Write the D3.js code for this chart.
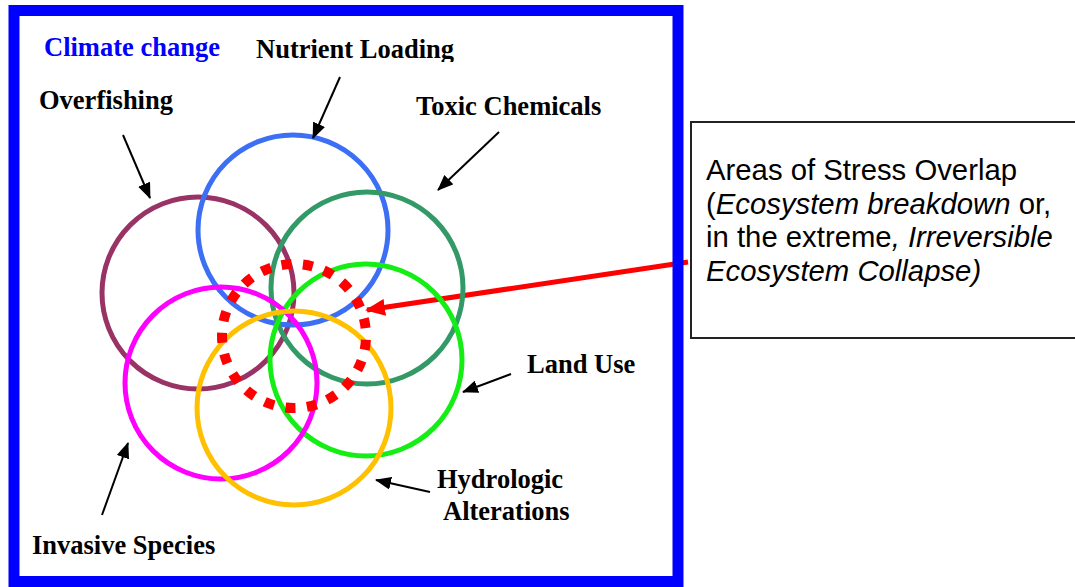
<!DOCTYPE html>
<html>
<head>
<meta charset="utf-8">
<script src="https://cdn.jsdelivr.net/npm/d3@7"></script>
<style>
  html, body { margin: 0; padding: 0; background: #fff; }
  svg { display: block; }
</style>
</head>
<body>
<svg id="chart" width="1075" height="587"></svg>
<script>
// stress circles (diagram units = px of the original slide)
const stressNames = ["Overfishing", "Nutrient Loading", "Toxic Chemicals", "Land Use", "Invasive Species", "Hydrologic Alterations"];
const circleX = [198, 293, 367, 366, 221, 294];
const circleY = [293, 230, 288, 360, 383, 408];
const circleR = [96, 95, 96, 96, 96, 97];
const circleColors = ["#993366", "#3D6FF5", "#339966", "#14EE14", "#FF00FF", "#FFC000"];

// overlap zone
const overlapCenter = [294, 336];
const overlapR = 72;

// labels
const labelText = ["Climate change", "Nutrient Loading", "Overfishing", "Toxic Chemicals", "Land Use", "Hydrologic", "Alterations", "Invasive Species"];
const labelX = [44, 256, 39, 416, 527, 437, 443, 32];
const labelY = [56, 58, 109, 115, 373, 488, 520, 554];
const labelColors = ["#0000FF", "#000", "#000", "#000", "#000", "#000", "#000", "#000"];

// pointer arrows: [x1, y1, x2, y2]
const arrows = [
    [340, 77, 313, 138],
    [123, 135, 150, 198],
    [499, 132, 438, 190],
    [511, 374, 463, 392],
    [430, 492, 376, 480],
    [102, 515, 128, 443]
];
const redArrow = [688, 262, 367, 310];

// note box lines (segments: [text, italic])
const noteLines = [
    [["Areas of Stress Overlap", false]],
    [["(", false], ["Ecosystem breakdown", true], [" or,", false]],
    [["in the extreme", false], [", Irreversible", true]],
    [["Ecosystem Collapse)", true]]
];

const svg = d3.select("#chart");
const W = +svg.attr("width"), H = +svg.attr("height");

const x = d3.scaleLinear().domain([0, 1075]).range([0, W]);
const y = d3.scaleLinear().domain([0, 587]).range([0, H]);
const r = d3.scaleLinear().domain([0, 100]).range([0, 100 * W / 1075]);

const defs = svg.append("defs");
defs.append("marker")
    .attr("id", "head")
    .attr("markerUnits", "userSpaceOnUse")
    .attr("markerWidth", 16).attr("markerHeight", 13)
    .attr("refX", 15).attr("refY", 6.5)
    .attr("orient", "auto")
    .append("path").attr("d", "M0,0 L16,6.5 L0,13 Z").attr("fill", "#000");
defs.append("marker")
    .attr("id", "redhead")
    .attr("markerUnits", "userSpaceOnUse")
    .attr("markerWidth", 20).attr("markerHeight", 17)
    .attr("refX", 18).attr("refY", 8.5)
    .attr("orient", "auto")
    .append("path").attr("d", "M0,0 L20,8.5 L0,17 Z").attr("fill", "#FF0000");
defs.append("clipPath").attr("id", "topclip")
    .append("rect").attr("x", 0).attr("y", 0).attr("width", W).attr("height", y(62));

// note box on the right
svg.append("rect")
    .attr("x", x(691)).attr("y", y(122))
    .attr("width", x(400)).attr("height", y(216))
    .attr("fill", "#fff").attr("stroke", "#222").attr("stroke-width", 2);

const note = svg.append("text")
    .attr("font-family", "'Liberation Sans', Arial, sans-serif")
    .attr("font-size", 29.3)
    .attr("fill", "#000");
noteLines.forEach((line, i) => {
    line.forEach((seg, j) => {
        const t = note.append("tspan")
            .attr("font-style", seg[1] ? "italic" : "normal")
            .text(seg[0]);
        if (j === 0) t.attr("x", x(706)).attr("y", y(180 + i * 33.7));
    });
});

// red pointer
svg.append("line")
    .attr("x1", x(redArrow[0])).attr("y1", y(redArrow[1]))
    .attr("x2", x(redArrow[2])).attr("y2", y(redArrow[3]))
    .attr("stroke", "#FF0000").attr("stroke-width", 5)
    .attr("marker-end", "url(#redhead)");

// blue frame
svg.append("rect")
    .attr("x", x(14)).attr("y", y(10.5))
    .attr("width", x(664)).attr("height", y(571))
    .attr("fill", "none").attr("stroke", "#0000FF").attr("stroke-width", 11);

// stress circles
svg.append("g").selectAll("circle")
    .data(stressNames)
    .join("circle")
    .attr("cx", (d, i) => x(circleX[i]))
    .attr("cy", (d, i) => y(circleY[i]))
    .attr("r", (d, i) => r(circleR[i]))
    .attr("fill", "none")
    .attr("stroke", (d, i) => circleColors[i])
    .attr("stroke-width", 5);

// dotted overlap circle
const circ = 2 * Math.PI * r(overlapR);
const nDots = 21;
svg.append("circle")
    .attr("cx", x(overlapCenter[0])).attr("cy", y(overlapCenter[1]))
    .attr("r", r(overlapR))
    .attr("fill", "none")
    .attr("stroke", "#FF0000")
    .attr("stroke-width", 10)
    .attr("stroke-dasharray", `10 ${circ / nDots - 10}`)
    .attr("transform", `rotate(-100 ${x(overlapCenter[0])} ${y(overlapCenter[1])})`);

// black pointer arrows
svg.append("g").selectAll("line")
    .data(arrows)
    .join("line")
    .attr("x1", d => x(d[0])).attr("y1", d => y(d[1]))
    .attr("x2", d => x(d[2])).attr("y2", d => y(d[3]))
    .attr("stroke", "#000").attr("stroke-width", 2)
    .attr("marker-end", "url(#head)");

// labels
const labels = svg.append("g")
    .attr("font-family", "'Liberation Serif', 'Times New Roman', serif")
    .attr("font-weight", "bold")
    .attr("font-size", 26.5);
labels.selectAll("text")
    .data(labelText)
    .join("text")
    .attr("x", (d, i) => x(labelX[i]))
    .attr("y", (d, i) => y(labelY[i]))
    .attr("fill", (d, i) => labelColors[i])
    .attr("clip-path", d => d === "Nutrient Loading" ? "url(#topclip)" : null)
    .text(d => d);
</script>
</body>
</html>
